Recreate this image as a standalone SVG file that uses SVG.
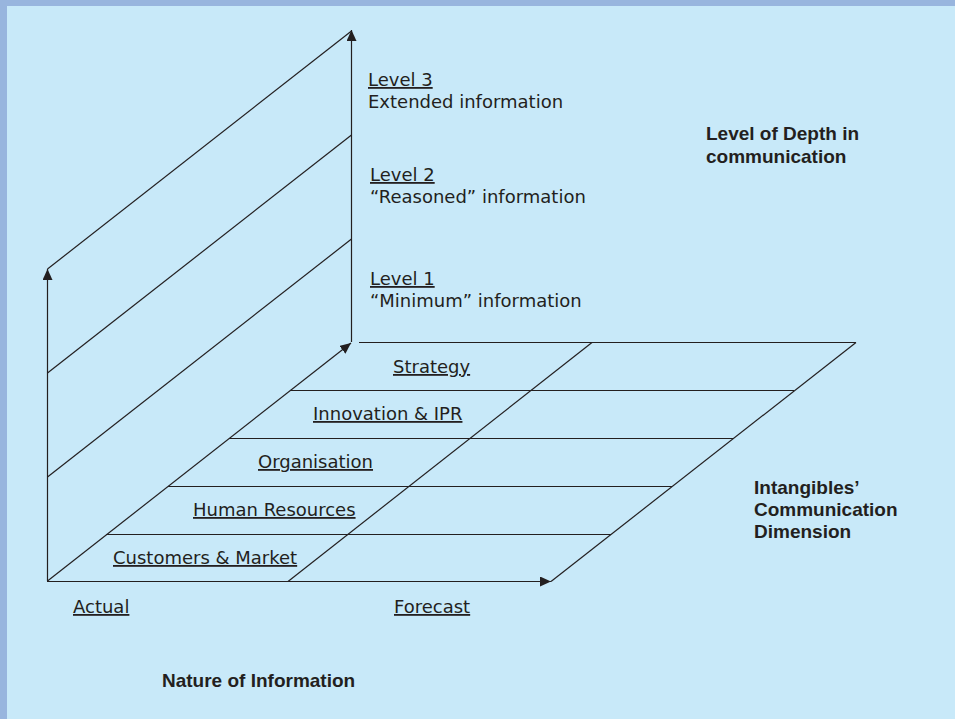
<svg xmlns="http://www.w3.org/2000/svg" width="955" height="719" viewBox="0 0 955 719">
<style>
.ln{stroke:#231f20;stroke-width:1.2;fill:none}
.t{font-family:"DejaVu Sans",sans-serif;font-size:18px;fill:#231f20}
.u{text-decoration:underline}
.b{font-family:"Liberation Sans",Arial,sans-serif;font-size:19px;font-weight:bold;fill:#231f20}
</style>
<defs>
<marker id="ah" viewBox="0 0 11 10" refX="11" refY="5" markerWidth="11" markerHeight="10" markerUnits="userSpaceOnUse" orient="auto">
<path d="M0,0 L11,5 L0,10 z" fill="#231f20"/>
</marker>
</defs>
<rect x="0" y="0" width="955" height="719" fill="#98b5de"/>
<rect x="7" y="6" width="948" height="713" fill="#c8e9f9"/>
<g id="connectors">
<line class="ln" x1="47.5" y1="581" x2="47.5" y2="269" marker-end="url(#ah)"/>
<line class="ln" x1="351.5" y1="342" x2="351.5" y2="30" marker-end="url(#ah)"/>
<line class="ln" x1="47" y1="581.5" x2="551" y2="581.5" marker-end="url(#ah)"/>
<line class="ln" x1="47.5" y1="581" x2="351" y2="343" marker-end="url(#ah)"/>
<line class="ln" x1="351.5" y1="31" x2="47.5" y2="269"/>
<line class="ln" x1="47.5" y1="373" x2="351.5" y2="135"/>
<line class="ln" x1="47.5" y1="477" x2="351.5" y2="239"/>
<line class="ln" x1="551" y1="581.5" x2="856" y2="342.5"/>
<line class="ln" x1="288" y1="581.5" x2="592" y2="342.5"/>
<line class="ln" x1="359" y1="342.5" x2="856" y2="342.5"/>
<line class="ln" x1="290" y1="390.5" x2="794" y2="390.5"/>
<line class="ln" x1="229" y1="438.5" x2="733" y2="438.5"/>
<line class="ln" x1="168" y1="486.5" x2="672" y2="486.5"/>
<line class="ln" x1="106" y1="534.5" x2="611" y2="534.5"/>
</g>
<g id="level3"><text class="t u" x="368" y="86">Level 3</text><text class="t" x="368" y="108">Extended information</text></g>
<g id="level2"><text class="t u" x="370" y="181">Level 2</text><text class="t" x="370" y="203">“Reasoned” information</text></g>
<g id="level1"><text class="t u" x="370" y="285">Level 1</text><text class="t" x="370" y="307">“Minimum” information</text></g>
<g id="strategy"><text class="t u" x="393" y="373">Strategy</text></g>
<g id="innovation"><text class="t u" x="313" y="420">Innovation &amp; IPR</text></g>
<g id="organisation"><text class="t u" x="258" y="468">Organisation</text></g>
<g id="hr"><text class="t u" x="193" y="516">Human Resources</text></g>
<g id="customers"><text class="t u" x="113" y="564">Customers &amp; Market</text></g>
<g id="actual"><text class="t u" x="73" y="613">Actual</text></g>
<g id="forecast"><text class="t u" x="394" y="613">Forecast</text></g>
<g id="depth"><text class="b" x="706" y="140">Level of Depth in</text><text class="b" x="706" y="163">communication</text></g>
<g id="intangibles"><text class="b" x="754" y="494">Intangibles’</text><text class="b" x="754" y="516">Communication</text><text class="b" x="754" y="538">Dimension</text></g>
<g id="nature"><text class="b" x="162" y="687">Nature of Information</text></g>
</svg>
